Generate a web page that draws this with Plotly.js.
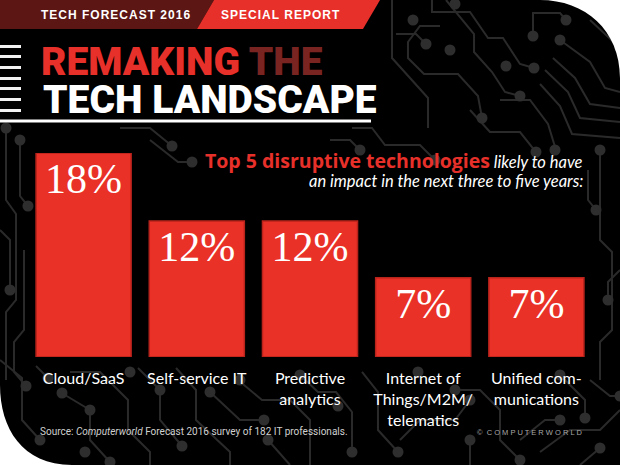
<!DOCTYPE html>
<html>
<head>
<meta charset="utf-8">
<script src="https://cdn.plot.ly/plotly-3.0.1.min.js"></script>
<style>
html,body{margin:0;padding:0;background:#fff;}
#chart{width:620px;height:465px;}
</style>
</head>
<body>
<div id="chart"></div>
<script>
// ---- data ----
const categories = ['Cloud/SaaS', 'Self-service IT', 'Predictive<br>analytics', 'Internet of<br>Things/M2M/<br>telematics', 'Unified com-<br>munications'];
const values = [18, 12, 12, 7, 7];
const valueLabels = ['18%', '12%', '12%', '7%', '7%'];

// ---- helpers for decoration (pixel -> paper) ----
const ML = 27, MR = 27, MT = 153, MB = 108, FW = 620, FH = 465;
const PW = FW - ML - MR, PH = FH - MT - MB;
function px(x){ return ((x - ML) / PW).toFixed(4); }
function py(y){ return ((FH - MB - y) / PH).toFixed(4); }
function P(x, y){ return px(x) + ',' + py(y); }
function poly(pts, close){ return 'M' + pts.map(p => P(p[0], p[1])).join('L') + (close ? 'Z' : ''); }

const shapes = [];
const circuitColor = '#2a2a2a';
const circuitLines = [
  // top-right cluster
  [[392,0],[392,58],[428,98],[428,128]],
  [[432,0],[432,12],[470,12],[488,38],[503,38],[520,64],[534,68]],
  [[446,0],[474,34],[474,52],[492,72],[505,92],[520,96]],
  [[440,26],[420,26],[408,42],[408,58],[424,74],[458,74],[478,96],[482,118]],
  [[396,34],[416,34],[426,44]],
  [[533,36],[533,13],[560,13],[566,20]],
  [[560,40],[590,62],[605,88],[620,92]],
  [[553,58],[575,78],[590,104],[620,108]],
  [[545,70],[568,92],[580,118],[620,122]],
  [[540,84],[560,106],[572,134],[620,138]],
  [[500,100],[530,100],[548,124],[556,150]],
  [[470,110],[490,132],[520,132],[536,152]],
  [[590,20],[620,48]],
  [[352,128],[372,128],[385,145],[420,145],[435,160]],
  [[330,140],[350,140],[360,150]],
  // left side
  [[6,128],[6,200],[16,214],[16,300],[6,312],[6,380]],
  [[20,140],[20,196],[28,206]],
  [[0,230],[10,240],[10,290]],
  [[24,250],[24,330],[14,342],[14,372],[26,386]],
  // right side
  [[600,150],[600,240],[612,252],[612,330],[600,342],[600,380]],
  [[588,170],[588,200],[596,210]],
  [[620,270],[608,282],[608,300]],
  // bottom
  [[0,360],[22,378],[22,420],[40,440]],
  [[36,366],[48,378]],
  [[60,392],[90,410],[90,440],[110,462]],
  [[70,372],[100,372],[128,400],[128,430],[150,452],[150,465]],
  [[138,368],[160,390],[160,420],[182,446]],
  [[176,368],[196,390],[196,420],[230,452],[230,465]],
  [[210,392],[240,420],[264,420]],
  [[238,380],[262,400],[290,400],[310,420],[310,465]],
  [[300,375],[318,392],[336,392],[352,412],[352,452]],
  [[268,440],[290,465]],
  [[362,372],[378,392],[378,430],[398,452]],
  [[400,440],[420,420],[455,420],[470,400]],
  [[455,390],[480,390],[500,410],[500,440],[520,460]],
  [[470,440],[470,465]],
  [[520,440],[545,420],[560,420]],
  [[540,452],[570,430],[600,430],[620,410]],
  [[580,465],[600,448]],
  [[590,380],[610,396],[620,396]],
  [[560,375],[585,400],[585,418]],
  // around subtitle
  [[150,140],[178,162],[192,162]],
  [[120,128],[150,128],[172,146]]
];
const circuitDots = [
  [534,68],[520,96],[482,118],[426,44],[566,20],[533,36],[560,40],[413,20],[450,50],[555,150],[536,152],[435,160],[360,150],
  [590,8],[620,48],[506,66],[455,4],
  [28,206],[10,290],[26,386],[6,128],[20,140],[596,210],[608,300],[600,150],
  [40,440],[48,378],[110,462],[90,410],[130,372],[182,446],[160,390],[264,420],[210,392],[240,380],[300,375],[352,452],
  [268,440],[398,452],[470,400],[455,390],[520,460],[470,440],[560,420],[600,448],[620,396],[585,418],[560,375],
  [192,162],[172,146],[62,393],[85,452],[338,406],[418,372]
];
circuitLines.forEach(pts => shapes.push({type:'path', xref:'paper', yref:'paper', path: poly(pts), line:{color:circuitColor, width:2}, layer:'below'}));
circuitDots.forEach(d => shapes.push({type:'circle', xref:'paper', yref:'paper', x0:px(d[0]-5.5), x1:px(d[0]+5.5), y0:py(d[1]+5.5), y1:py(d[1]-5.5), fillcolor:'#2e2e2e', line:{width:0}, layer:'below'}));

// header band
shapes.push({type:'path', xref:'paper', yref:'paper', path: poly([[0,0],[214,0],[197,29],[0,29]], true), fillcolor:'#5c1614', line:{width:0}, layer:'below'});
shapes.push({type:'path', xref:'paper', yref:'paper', path: poly([[214,0],[380,0],[363,29],[197,29]], true), fillcolor:'#e8302a', line:{width:0}, layer:'below'});
// left stripes
[45,55,66,77,87,98,109].forEach(y => shapes.push({type:'rect', xref:'paper', yref:'paper', x0:px(0), x1:px(21), y0:py(y+3), y1:py(y), fillcolor:'#f2f2f2', line:{width:0}, layer:'below'}));
// underline under title
shapes.push({type:'rect', xref:'paper', yref:'paper', x0:px(0), x1:px(371), y0:py(122.5), y1:py(119.5), fillcolor:'#ffffff', line:{width:0}, layer:'below'});
// white rounded corners
shapes.push({type:'path', xref:'paper', yref:'paper', path:'M'+P(540,0)+'C'+P(585,0)+' '+P(620,30)+' '+P(620,78)+'L'+P(621,78)+'L'+P(621,-1)+'L'+P(540,-1)+'Z', fillcolor:'#ffffff', line:{width:0}, layer:'above'});
shapes.push({type:'path', xref:'paper', yref:'paper', path:'M'+P(0,385)+'C'+P(0,428)+' '+P(22,465)+' '+P(72,465)+'L'+P(72,466)+'L'+P(-1,466)+'L'+P(-1,385)+'Z', fillcolor:'#ffffff', line:{width:0}, layer:'above'});

function spaced(s, sep){ return s.split('').join(sep); }

const titleFont = 'Roboto, Liberation Sans, sans-serif';
const annotations = [
  {text: spaced('TECH FORECAST 2016', '\u200A'), x: px(116), y: py(15), xref:'paper', yref:'paper', xanchor:'center', yanchor:'middle', showarrow:false,
   font:{family:'Liberation Sans, Arial, sans-serif', size:12, color:'#ffffff', weight:'bold'}},
  {text: spaced('SPECIAL REPORT', '\u200A'), x: px(280), y: py(15), xref:'paper', yref:'paper', xanchor:'center', yanchor:'middle', showarrow:false,
   font:{family:'Liberation Sans, Arial, sans-serif', size:12, color:'#ffffff', weight:'bold'}},
  {text: '<span style="color:#e8302a">REMAKING</span> <span style="color:#7a2422">THE</span>', x: px(39), y: py(62), xref:'paper', yref:'paper', xanchor:'left', yanchor:'middle', showarrow:false,
   height: 36, valign: 'middle',
   font:{family:titleFont, size:39, color:'#e8302a', weight:900}},
  {text: 'TECH LANDSCAPE', x: px(41), y: py(100), xref:'paper', yref:'paper', xanchor:'left', yanchor:'middle', showarrow:false,
   height: 36, valign: 'middle',
   font:{family:titleFont, size:39, color:'#ffffff', weight:900}},
  {text: '<span style="color:#e8302a;font-weight:bold;font-style:normal;font-size:19.5px;font-family:\'Open Sans\'">Top 5 disruptive technologies</span> likely to have', x: px(585), y: py(161), xref:'paper', yref:'paper', xanchor:'right', yanchor:'middle', showarrow:false,
   font:{family:'Lato, Open Sans, sans-serif', size:16.5, color:'#ffffff', style:'italic'}},
  {text: 'an impact in the next three to five years:', x: px(585), y: py(181), xref:'paper', yref:'paper', xanchor:'right', yanchor:'middle', showarrow:false,
   font:{family:'Lato, Open Sans, sans-serif', size:16.5, color:'#ffffff', style:'italic'}},
  {text: 'Source: <i>Computerworld</i> Forecast 2016 survey of 182 IT professionals.', x: px(38), y: py(432), xref:'paper', yref:'paper', xanchor:'left', yanchor:'middle', showarrow:false,
   font:{family:'Roboto, sans-serif', size:10, color:'#d0d0d0'}},
  {text: '\u00A9\u00A0 ' + spaced('COMPUTERWORLD', ' '), x: px(584), y: py(433), xref:'paper', yref:'paper', xanchor:'right', yanchor:'middle', showarrow:false,
   font:{family:'Liberation Sans, Arial, sans-serif', size:7.5, color:'#a8a8a8'}}
];

const trace = {
  type: 'bar',
  x: categories,
  y: values,
  text: valueLabels,
  textposition: 'inside',
  insidetextanchor: 'end',
  textangle: 0,
  constraintext: 'none',
  insidetextfont: {family: 'Liberation Serif, Times New Roman, serif', size: 42, color: '#ffffff'},
  marker: {color: '#ea3127', line: {color: '#b8231b', width: 1.5}},
  hoverinfo: 'none'
};

const layout = {
  width: FW, height: FH,
  margin: {l: ML, r: MR, t: MT, b: MB, pad: 0},
  paper_bgcolor: '#000000',
  plot_bgcolor: 'rgba(0,0,0,0)',
  showlegend: false,
  bargap: 0.16,
  xaxis: {type: 'category', showgrid: false, showline: false, zeroline: false, ticks: '', tickangle: 0, ticklabelstandoff: 10,
          tickfont: {family: 'Lato, Open Sans, sans-serif', size: 16, color: '#ffffff'}, fixedrange: true},
  yaxis: {range: [0, 18], visible: false, fixedrange: true},
  shapes: shapes,
  annotations: annotations,
  hovermode: false
};

Plotly.newPlot('chart', [trace], layout, {staticPlot: true, displayModeBar: false});
</script>
</body>
</html>
